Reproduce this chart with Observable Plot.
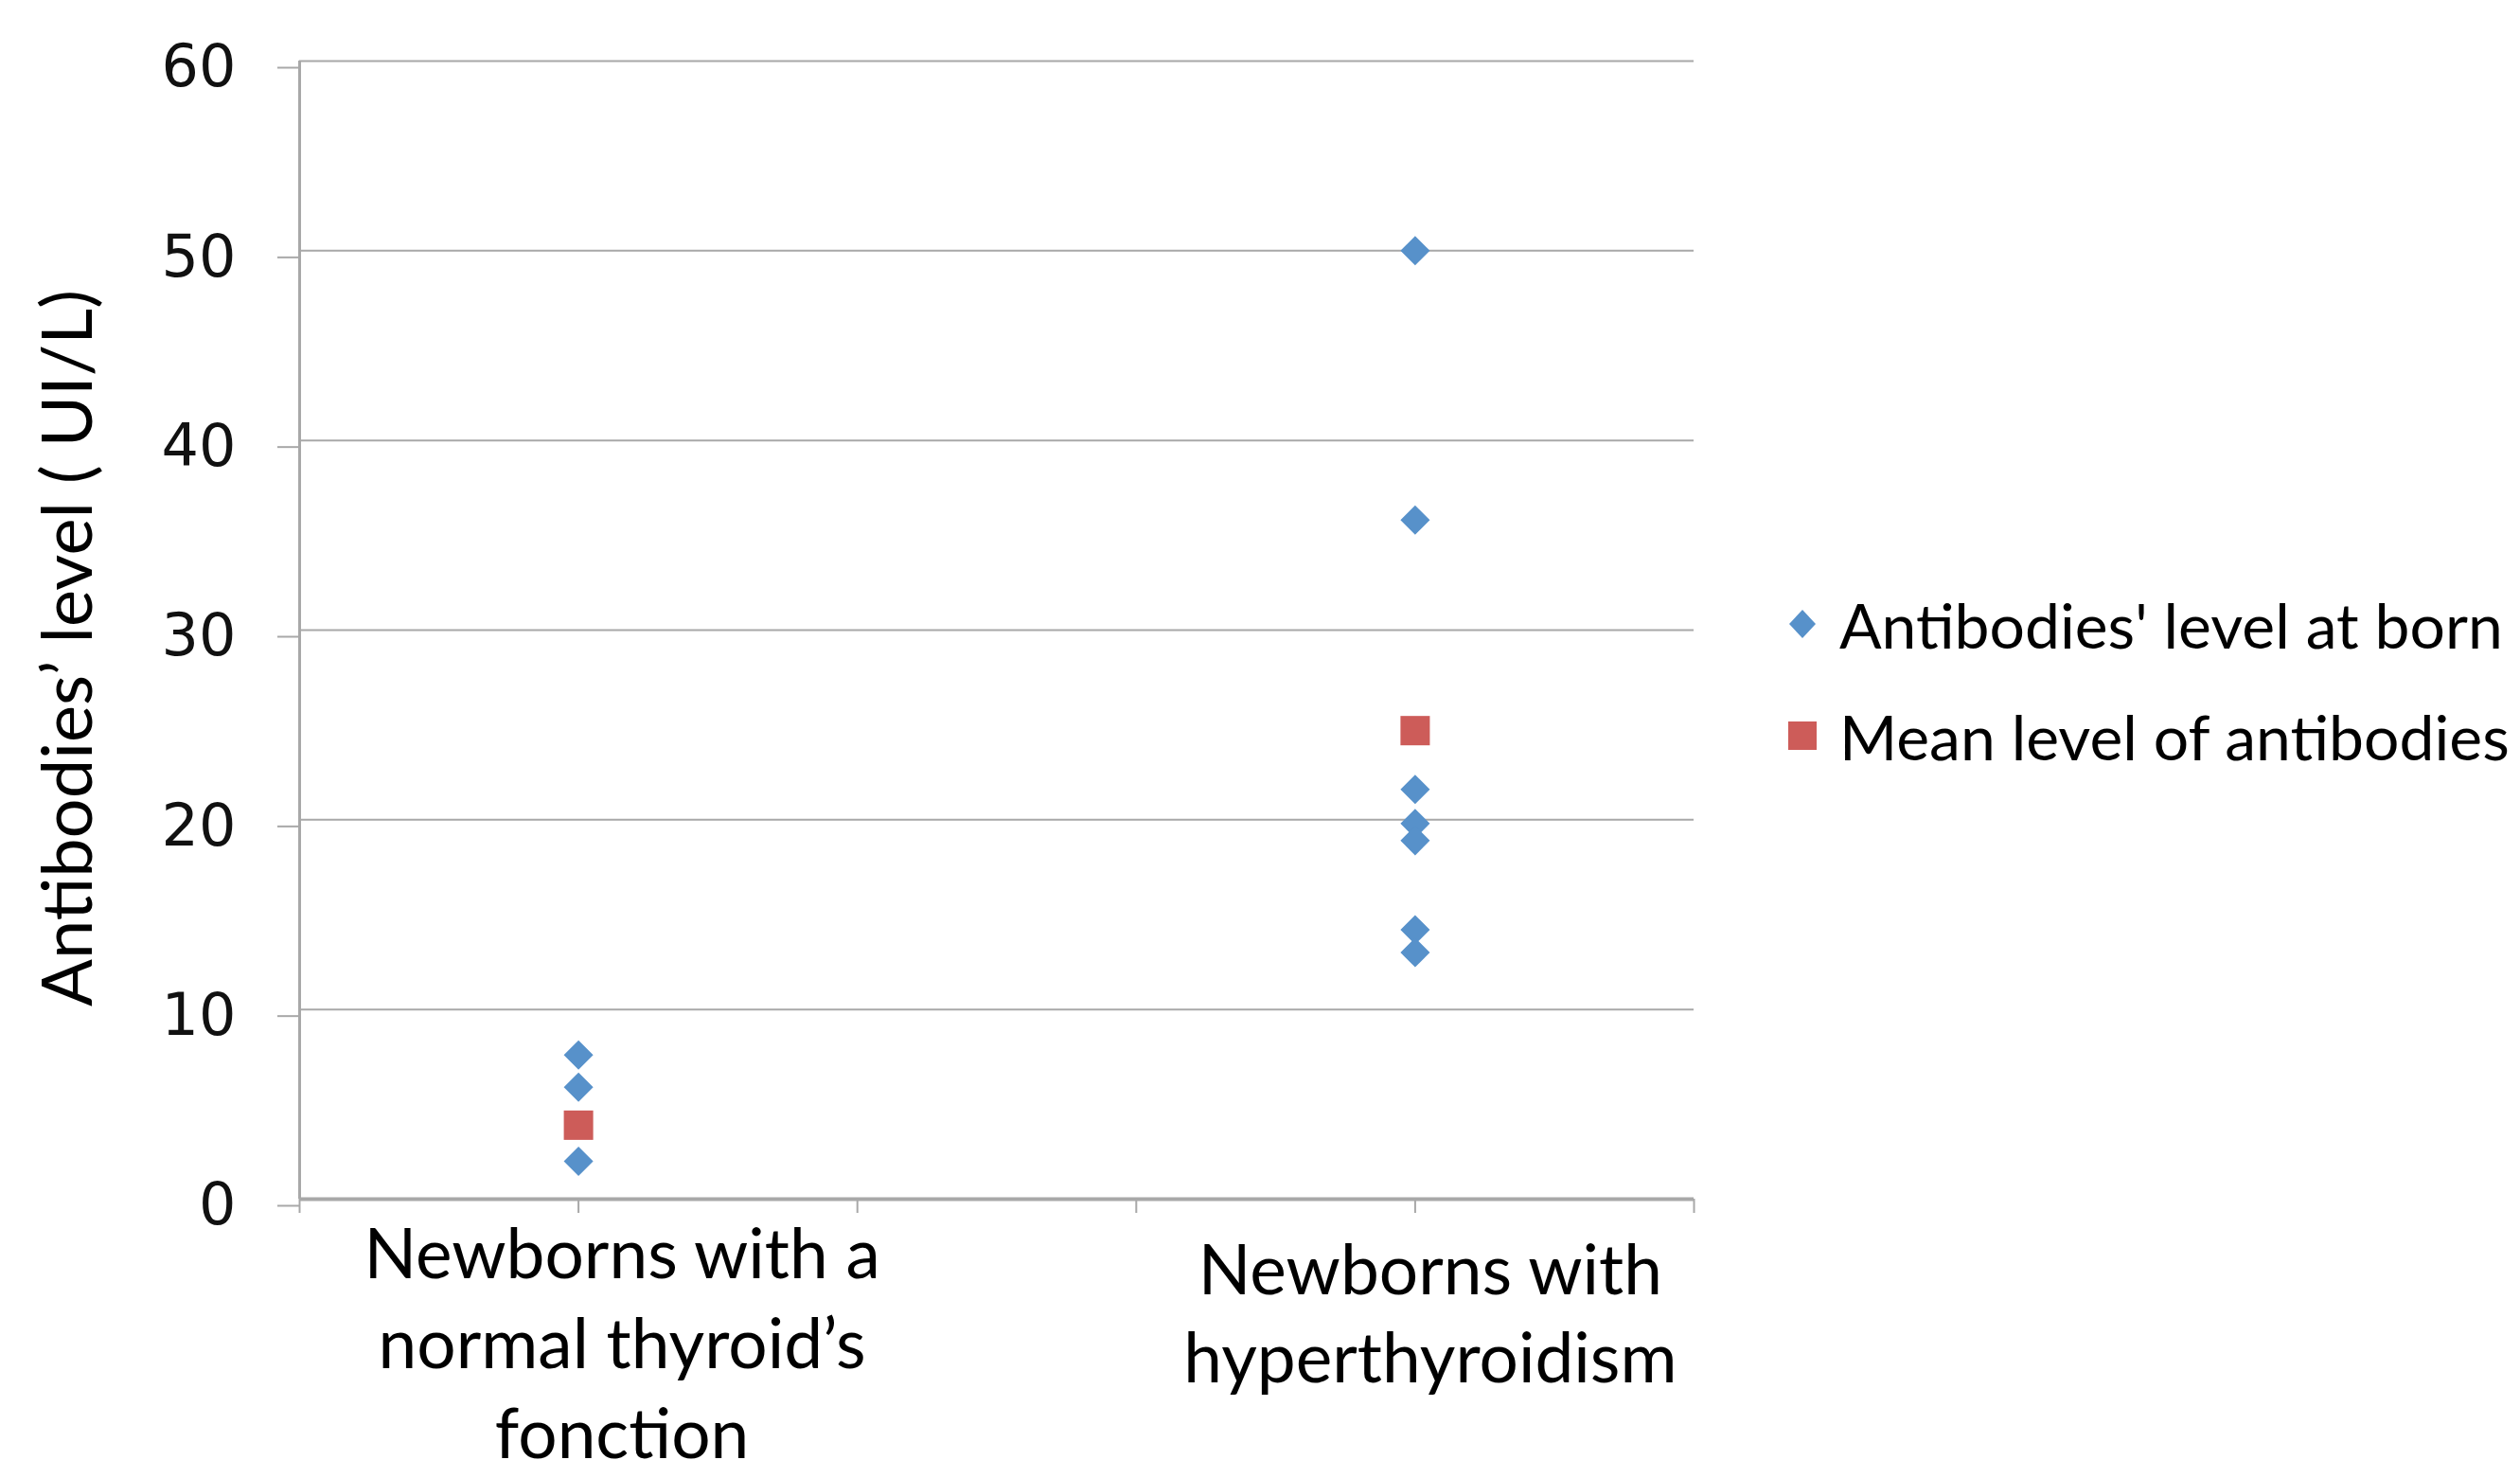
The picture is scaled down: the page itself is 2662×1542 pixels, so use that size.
<!DOCTYPE html>
<html><head><meta charset="utf-8">
<script src="https://cdn.jsdelivr.net/npm/d3@7"></script>
<script src="https://cdn.jsdelivr.net/npm/@observablehq/plot@0.6"></script>
<style>
html,body{margin:0;padding:0;background:#fff;}
#wrap{position:relative;width:2662px;height:1542px;overflow:hidden;}
#chart{position:absolute;left:0;top:0;}
#legend{position:absolute;left:1886px;top:600px;font-family:Lato,sans-serif;font-size:66px;color:#000;}
.row{display:flex;align-items:center;height:118px;white-space:nowrap;}
.row svg{margin-right:21px;}
</style></head><body>
<div id="wrap"><div id="chart"></div><div id="legend"></div></div>
<script>
// ---- data ----
const categories = ["Newborns with a\nnormal thyroid’s\nfonction", "Newborns with\nhyperthyroidism"];
const categoryPos = [1, 4];
const normalLevels = [7.6, 5.9, 2.0];
const hyperLevels = [50, 35.8, 21.6, 19.8, 18.9, 14.2, 13.0];
const meanLevels = [3.9, 24.7];
const yTicks = [0, 10, 20, 30, 40, 50, 60];
const xTicks = [0, 1, 2, 3, 4, 5];
const seriesNames = ["Antibodies' level at born", "Mean level of antibodies"];
const yTitle = "Antibodies’ level ( UI/L)";
const colors = ["#5791CA", "#CD5C59"];

// ---- tables built from arrays ----
const levelRows = [
  ...normalLevels.map(v => ({x: categoryPos[0], y: v})),
  ...hyperLevels.map(v => ({x: categoryPos[1], y: v}))
];
const meanRows = meanLevels.map((v, i) => ({x: categoryPos[i], y: v}));

const grid = "#a8a8a8";
const chart = Plot.plot({
  width: 1850,
  height: 1542,
  marginLeft: 316,
  marginRight: 61,
  marginTop: 64,
  marginBottom: 276,
  style: {fontFamily: "Lato, sans-serif", background: "#fff", overflow: "visible"},
  x: {domain: [0, 5], axis: null},
  y: {domain: [0, 60], axis: null},
  marks: [
    Plot.ruleY(yTicks.filter(d => d > 0), {stroke: grid, strokeWidth: 2}),
    Plot.axisY({ticks: yTicks, tickSize: 23, tickPadding: 44, stroke: grid, strokeWidth: 2,
      fontSize: 62, fontFamily: "DejaVu Sans", fill: "#111", label: null, dy: 7}),
    Plot.ruleX([0], {stroke: grid, strokeWidth: 3}),
    Plot.ruleY([0], {stroke: grid, strokeWidth: 4}),
    Plot.axisX({ticks: xTicks, tickSize: 15, tickFormat: () => "", stroke: grid, strokeWidth: 2, label: null}),
    Plot.text([categories[0]], {x: categoryPos[0], y: 0, text: d => d, lineAnchor: "top",
      dx: 46, dy: 16, fontSize: 73, lineHeight: 1.3, fill: "#000"}),
    Plot.text([categories[1]], {x: categoryPos[1], y: 0, text: d => d, lineAnchor: "top",
      dx: 16, dy: 34, fontSize: 73, lineHeight: 1.28, fill: "#000"}),
    Plot.text([yTitle], {frameAnchor: "left", text: d => d, rotate: -90, textAnchor: "middle",
      dx: -243, dy: 19, fontSize: 74, fill: "#000"}),
    Plot.dot(levelRows, {x: "x", y: "y", symbol: "diamond2", r: 14, fill: colors[0], stroke: "none"}),
    Plot.dot(meanRows, {x: "x", y: "y", symbol: "square", r: 17.5, fill: colors[1], stroke: "none"})
  ]
});
document.getElementById("chart").appendChild(chart);

// ---- legend ----
const leg = document.getElementById("legend");
const shapes = [
  `<svg width="36" height="36" viewBox="-18 -18 36 36"><path d="M0,-15L14,0L0,15L-14,0Z" fill="${colors[0]}"/></svg>`,
  `<svg width="36" height="36" viewBox="-18 -18 36 36"><rect x="-15" y="-15" width="30" height="30" fill="${colors[1]}"/></svg>`
];
seriesNames.forEach((name, i) => {
  const row = document.createElement("div");
  row.className = "row";
  row.innerHTML = shapes[i] + `<span>${name}</span>`;
  leg.appendChild(row);
});
</script>
</body></html>
